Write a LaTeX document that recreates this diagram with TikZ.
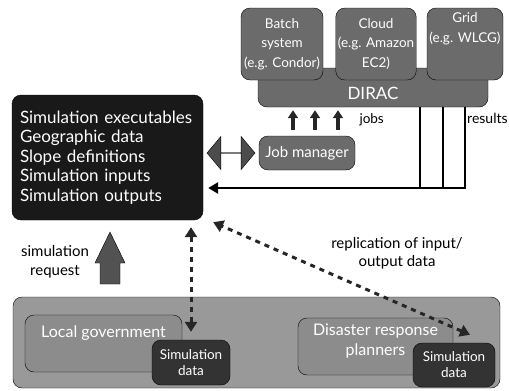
\documentclass[tikz,border=0pt]{standalone}
\usepackage{fontspec}
\setmainfont{Lato}
\usetikzlibrary{shapes,arrows,arrows.meta,positioning,fit}

\begin{document}
\begin{tikzpicture}[x=1pt,y=-1pt]
	\tikzstyle{Box}		= [rectangle, rounded corners=9pt, draw=black, thin, inner sep=2pt, align=center, text=white]
	\tikzstyle{Infra}	= [Box, fill=black!58, font=\fontsize{13.5}{19.5}\selectfont]
	\tikzstyle{Group}	= [Box, fill=black!45, minimum height=57, font=\fontsize{16}{20}\selectfont]
	\tikzstyle{SimData}	= [Box, fill=black!80, minimum height=45, font=\fontsize{13.5}{16}\selectfont]
	\tikzstyle{Replica}	= [dash pattern=on 5pt off 5pt, line width=3pt, black!85, {Triangle[length=10pt,width=12pt]}-{Triangle[length=10pt,width=12pt]}]
	\tikzstyle{JobArrow}	= [line width=3.5pt, black!85, -{Triangle[length=8pt,width=10pt]}]
	\tikzstyle{ResultLine}	= [line width=2.5pt, black]
	\tikzstyle{BlockArrow}	= [draw=black, thin, fill=black!68]
	\tikzstyle{Caption}	= [align=center, font=\fontsize{15}{19}\selectfont]

	\useasboundingbox (0,0) rectangle (509,391);

	% computing resources
	\node (dirac) at (373,87.5) [Infra, minimum width=230, minimum height=39, text height=25pt, font=\fontsize{17}{19}\selectfont] {DIRAC};
	\foreach \n/\x/\w/\t in {batch/282/82/{Batch\\system\\(e.g. Condor)}, cloud/376/78/{Cloud\\(e.g. Amazon\\EC2)}}
		\node (\n) at (\x,44) [Infra, minimum width=\w, minimum height=72] {\t};
	\node (grid) at (465,44) [Infra, minimum width=76, minimum height=72, text depth=33pt] {Grid\\(e.g. WLCG)};
	\node (jobman) at (307,153) [Infra, minimum width=96, minimum height=34, font=\fontsize{15}{17}\selectfont] {Job manager};

	% data store
	\node (dataBox) at (107.5,157.5) [Box, fill=black!90, minimum width=191, minimum height=125, align=left, text width=175, inner xsep=0pt, font=\fontsize{17}{19.5}\selectfont] {Simulation executables\\Geographic data\\Slope definitions\\Simulation inputs\\Simulation outputs};

	% users
	\node (users) at (256.5,342.5) [Box, fill=black!40, minimum width=487, minimum height=91] {};
	\node (localGov) at (103.5,343.5) [Group, minimum width=157, text depth=23pt] {Local government};
	\node (planners) at (375.5,346.5) [Group, minimum width=155, text depth=13pt] {Disaster response\\planners};
	\node (simLocal) at (191,362.5) [SimData, minimum width=78] {Simulation\\data};
	\node (simPlanners) at (454,365) [SimData, minimum width=82, minimum height=44] {Simulation\\data};

	% block arrows
	\draw [BlockArrow] (100,284) -- (100,263) -- (95,263) -- (110,232) -- (125,263) -- (120,263) -- (120,284) -- cycle;
	\node (reqLabel) at (55,262) [Caption] {simulation\\request};
	\node (sync) at (231,153) [double arrow, draw, fill=black!70, minimum height=48, minimum width=33, double arrow head extend=11.5pt, double arrow tip angle=100, inner sep=0pt] {};

	% jobs and results
	\foreach \dx in {-14,8,31}
		\draw [JobArrow] ([xshift=\dx pt]jobman.north) to ([xshift=\dx pt]jobman.north |- dirac.south) [shorten <=6pt, shorten >=3pt];
	\node (jobsLabel) at (356,120) [anchor=west, font=\fontsize{13.5}{15}\selectfont] {jobs};
	\node (resultsLabel) at (466,118) [anchor=west, inner sep=1pt, font=\fontsize{14}{15}\selectfont] {results};
	\coordinate (resIn) at ([yshift=-30.5pt]dataBox.east);
	\foreach \dx in {47,70}
		\draw [ResultLine] ([xshift=\dx pt]dirac.south) to ([xshift=\dx pt]dirac.south |- resIn);
	\draw [ResultLine, -{Triangle[length=10pt,width=11pt]}, shorten >=5pt] ([xshift=92pt]dirac.south) |- (resIn);

	% replication
	\draw [Replica, shorten <=7pt, shorten >=8pt] (dataBox.south -| simLocal.north) to (simLocal.north);
	\draw [Replica] ([xshift=16pt,yshift=8pt]simPlanners.north) to ([xshift=10pt,yshift=-2pt]dataBox.south east);
	\node (replLabel) at (397,253) [Caption, font=\fontsize{15}{18}\selectfont] {replication of input/\\output data};
\end{tikzpicture}
\end{document}
